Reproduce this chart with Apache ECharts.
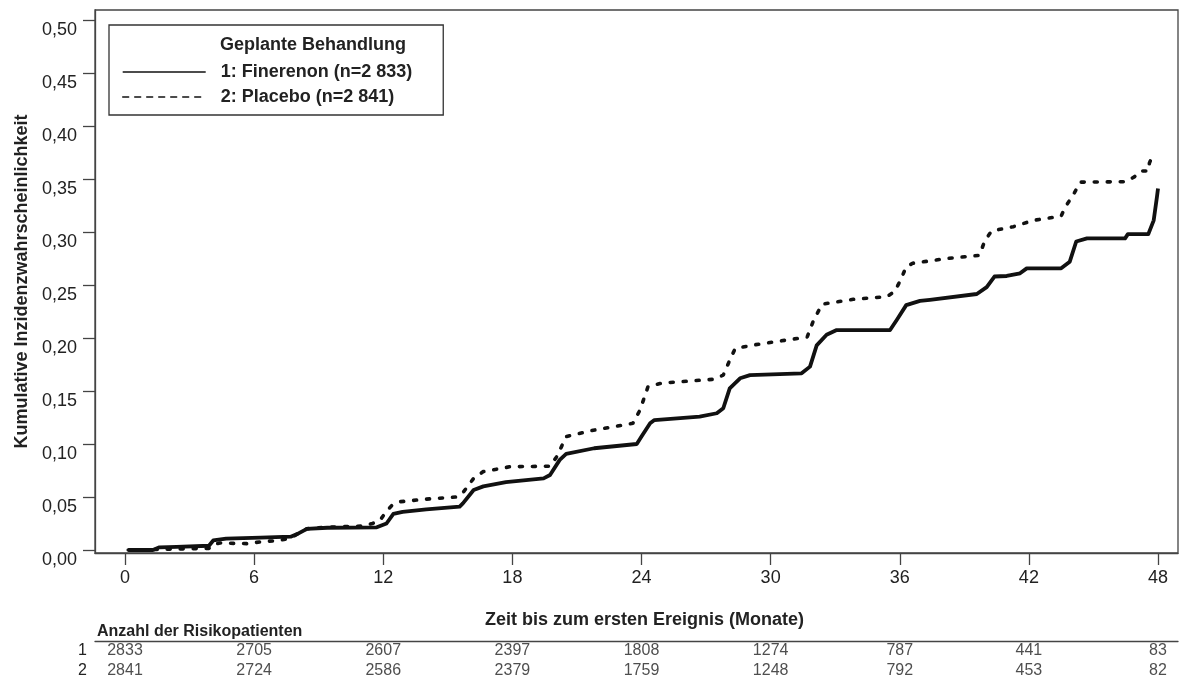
<!DOCTYPE html>
<html>
<head>
<meta charset="utf-8">
<script src="https://cdn.jsdelivr.net/npm/echarts@6/dist/echarts.min.js"></script>
<style>html,body{margin:0;padding:0;background:#fff}#c{width:1182px;height:682px}</style>
</head>
<body>
<div id="c"></div>
<script>
var seriesNames = ['1: Finerenon (n=2 833)', '2: Placebo (n=2 841)'];
var finTime = [0.15,1.3,1.6,2.4,3.9,4.1,4.7,6.3,7.7,8.0,8.45,9.4,11.7,12.15,12.47,12.9,14.0,15.55,15.7,16.2,16.65,17.7,19.45,19.75,20.2,20.5,21.8,23.78,24.0,24.4,24.6,26.7,27.5,27.8,28.1,28.58,29.04,31.44,31.83,32.14,32.6,33.07,35.55,35.86,36.3,36.94,37.4,39.58,40.04,40.4,40.97,41.59,41.9,43.5,43.9,44.2,44.7,46.47,46.6,47.55,47.8,47.95,48.0];
var finCif  = [0,0,0.0025,0.003,0.004,0.009,0.0107,0.0116,0.0126,0.015,0.020,0.021,0.0214,0.025,0.034,0.036,0.0384,0.041,0.044,0.0566,0.060,0.064,0.0676,0.0708,0.085,0.0906,0.096,0.100,0.107,0.1195,0.1226,0.1258,0.129,0.1337,0.1525,0.162,0.165,0.1667,0.173,0.193,0.203,0.2075,0.2075,0.217,0.231,0.235,0.236,0.2415,0.248,0.258,0.2585,0.261,0.2657,0.2657,0.272,0.291,0.294,0.294,0.298,0.298,0.311,0.333,0.341];
var plaTime = [0.15,1.5,2.5,3.9,4.1,4.4,5.65,6.4,7.05,7.67,8.0,8.45,9.4,11.0,11.5,11.85,12.16,12.4,12.8,14.0,15.4,15.7,16.2,16.65,17.9,19.75,20.06,20.5,21.76,23.6,23.93,24.3,24.86,25.3,27.3,27.8,28.1,28.35,29.2,31.05,31.7,32.0,32.4,33.84,35.4,35.75,36.0,36.3,36.6,38.2,39.7,39.96,40.27,41.28,42.2,43.5,43.7,44.0,44.4,46.5,46.9,47.2,47.55,47.6,47.7];
var plaCif  = [0,0.0005,0.001,0.0015,0.005,0.0066,0.0060,0.0079,0.0088,0.011,0.015,0.020,0.0215,0.0226,0.025,0.028,0.037,0.042,0.0456,0.048,0.050,0.054,0.0676,0.074,0.0786,0.079,0.088,0.107,0.113,0.1195,0.132,0.154,0.157,0.158,0.161,0.165,0.179,0.190,0.1934,0.199,0.201,0.217,0.232,0.2365,0.239,0.2437,0.253,0.267,0.2705,0.275,0.278,0.292,0.301,0.305,0.311,0.315,0.324,0.333,0.347,0.3475,0.352,0.3575,0.3575,0.365,0.37];
var xTicks = [0,6,12,18,24,30,36,42,48];
var yTicks = [0,0.05,0.10,0.15,0.20,0.25,0.30,0.35,0.40,0.45,0.50];
var riskRows = ['1','2'];
var riskFin = [2833,2705,2607,2397,1808,1274,787,441,83];
var riskPla = [2841,2724,2586,2379,1759,1248,792,453,82];

function zip(a,b){return a.map(function(v,i){return [v,b[i]];});}
var riskData = [];
xTicks.forEach(function(t,i){riskData.push([t,0,riskFin[i]]);riskData.push([t,1,riskPla[i]]);});

var FONT = 'Liberation Sans, Arial, sans-serif';
var AX = '#444';
var hiddenSym = {color:'rgba(0,0,0,0)',borderWidth:0,opacity:0};
var chart = echarts.init(document.getElementById('c'));
chart.setOption({
  animation:false,
  textStyle:{fontFamily:FONT,color:'#222'},
  title:[
    {text:'Geplante Behandlung',left:220,top:36,padding:0,textStyle:{fontSize:18,fontWeight:'bold',color:'#222',fontFamily:FONT}},
    {text:'Anzahl der Risikopatienten',left:97,top:624,padding:0,textStyle:{fontSize:16,fontWeight:'bold',color:'#222',fontFamily:FONT}}
  ],
  legend:{
    orient:'vertical',left:109,top:25,
    padding:[38,31,9,13],
    itemWidth:83,itemHeight:14,itemGap:7,
    borderColor:'#333',borderWidth:1.3,
    itemStyle:hiddenSym,
    textStyle:{fontSize:18,fontWeight:'bold',color:'#222',fontFamily:FONT,padding:[0,0,0,10]},
    data:[
      {name:seriesNames[0],itemStyle:hiddenSym,lineStyle:{width:1.4,type:'solid',color:'#111'}},
      {name:seriesNames[1],itemStyle:hiddenSym,lineStyle:{width:1.4,type:[6,6],color:'#111'}}
    ]
  },
  grid:[
    {left:95,right:4,top:10,height:543,show:true,borderColor:AX,borderWidth:1.3,backgroundColor:'transparent'},
    {left:95,right:4,top:641,height:40}
  ],
  xAxis:[
    {type:'value',gridIndex:0,min:-1.394,max:48.929,
     name:'Zeit bis zum ersten Ereignis (Monate)',nameLocation:'middle',nameGap:58,
     nameTextStyle:{fontSize:18,fontWeight:'bold',color:'#222',fontFamily:FONT,padding:[0,0,0,16]},
     axisLine:{show:true,onZero:false,lineStyle:{color:AX,width:1.3}},
     axisTick:{show:true,length:12,customValues:xTicks,lineStyle:{color:AX,width:1.3}},
     axisLabel:{customValues:xTicks,fontSize:18,color:'#222',margin:16,fontFamily:FONT},
     splitLine:{show:false}},
    {type:'value',gridIndex:1,min:-1.394,max:48.929,position:'top',
     axisLine:{show:true,onZero:false,lineStyle:{color:AX,width:1.3}},
     axisTick:{show:false},axisLabel:{show:false},splitLine:{show:false}}
  ],
  yAxis:[
    {type:'value',gridIndex:0,min:-0.00283,max:0.50943,
     name:'Kumulative Inzidenzwahrscheinlichkeit',nameLocation:'middle',nameGap:64,
     nameTextStyle:{fontSize:18,fontWeight:'bold',color:'#222',fontFamily:FONT},
     axisLine:{show:true,onZero:false,lineStyle:{color:AX,width:1.3}},
     axisTick:{show:true,length:12,customValues:yTicks,lineStyle:{color:AX,width:1.3}},
     axisLabel:{customValues:yTicks,fontSize:18,color:'#222',margin:18,verticalAlign:'top',padding:[1,0,0,0],fontFamily:FONT,
       formatter:function(v){return v.toFixed(2).replace('.',',');}},
     splitLine:{show:false}},
    {type:'category',gridIndex:1,data:riskRows,inverse:true,
     axisLine:{show:false,onZero:false},axisTick:{show:false},
     axisLabel:{interval:0,fontSize:16,color:'#222',margin:8,fontFamily:FONT}}
  ],
  series:[
    {name:seriesNames[1],type:'line',xAxisIndex:0,yAxisIndex:0,data:zip(plaTime,plaCif),symbol:'none',
     itemStyle:{color:'#111'},
     lineStyle:{color:'#111',width:3.6,type:[3,10],cap:'round'},z:2},
    {name:seriesNames[0],type:'line',xAxisIndex:0,yAxisIndex:0,data:zip(finTime,finCif),symbol:'none',
     itemStyle:{color:'#111'},
     lineStyle:{color:'#111',width:3.8,type:'solid',join:'round'},z:3},
    {type:'scatter',xAxisIndex:1,yAxisIndex:1,data:riskData,symbolSize:1,itemStyle:{color:'rgba(0,0,0,0)'},silent:true,
     label:{show:true,position:'inside',formatter:function(p){return p.value[2];},fontSize:16,color:'#222',fontFamily:FONT}}
  ]
});
</script>
</body>
</html>
